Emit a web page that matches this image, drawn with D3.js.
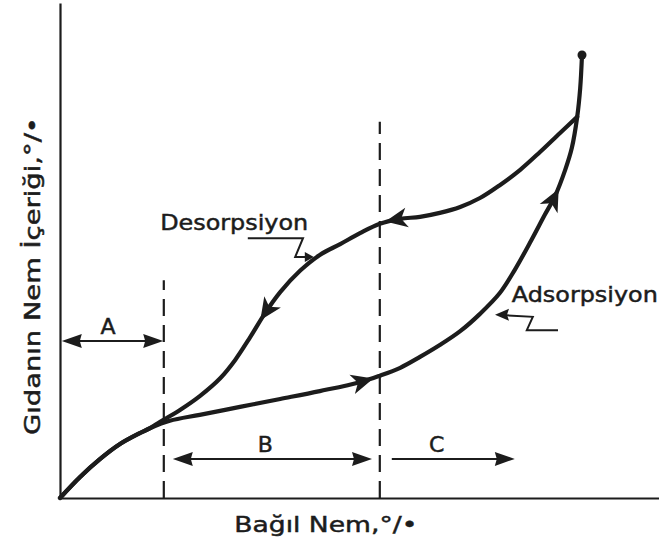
<!DOCTYPE html>
<html>
<head>
<meta charset="utf-8">
<script src="https://cdn.jsdelivr.net/npm/d3@7"></script>
<style>
    html, body { margin: 0; padding: 0; background: #fff; }
    svg { display: block; }
    text { font-family: "DejaVu Sans", sans-serif; fill: #1c1c1c; stroke: #1c1c1c; stroke-width: 0.5px; }
</style>
</head>
<body>
<svg id="chart"></svg>
<script>
// adsorpsiyon egrisi (bagil nem %, nem icerigi)
var adsRH = [0, 3.3, 6.7, 10, 13.3, 15, 18.3, 23.3, 30, 36.7, 43.3, 50, 53.3, 56.7, 60, 63.3, 66.7, 70, 73.3, 75.8, 78.3, 80.8, 82.5, 84.2, 85.3, 86.2, 86.7, 87];
var adsMC = [0, 4.2, 7.9, 10.9, 13.1, 14.1, 15.6, 16.8, 18.4, 20.0, 21.6, 23.4, 24.7, 26.3, 28.5, 30.9, 33.7, 37.2, 41.4, 46.1, 51.5, 57.2, 61.0, 66.3, 70.7, 77.0, 82.8, 89.5];
// desorpsiyon egrisi (ustten asagi)
var desRH = [86.2, 83.3, 80, 76.7, 73.3, 70, 66.7, 63.3, 60, 56.7, 53.3, 50, 46.7, 43.3, 40, 36.7, 34.2, 31.7, 29.2, 26.7, 23.3, 20, 16.7, 15, 13.3, 10, 6.7, 3.3, 0];
var desMC = [77.0, 73.7, 69.9, 66.3, 63.2, 60.6, 58.8, 57.6, 56.8, 56.4, 55.4, 53.5, 51.3, 49.1, 45.9, 41.6, 37.4, 32.5, 27.9, 24.2, 20.6, 17.8, 15.4, 14.1, 13.1, 10.9, 7.9, 4.2, 0];

// ok yonu gosteren noktalar (bagil nem)
var adsArrowRH = [50.3, 82.2];
var desArrowRH = [56.2, 34.5];

// bolge sinirlari
var boundRH = [17.3, 53.3];
var boundTop = [44, 76];

var zoneLabels = ["A", "B", "C"];
var zoneFrom = [0.3, 18.8, 55.3];
var zoneTo = [17.2, 52, 75.8];
var zoneLevel = [31.7, 7.9, 7.9];
var zoneLabelRH = [8, 34.2, 62.8];
var zoneBoth = [true, true, false];

var xTitle = "Bağıl Nem,°/•";
var yTitle = "Gıdanın Nem İçeriği,°/•";

var W = 659, H = 556;
var ink = "#1c1c1c";

var svg = d3.select("#chart").attr("width", W).attr("height", H);

var x = d3.scaleLinear().domain([0, 100]).range([60, 660]);
var y = d3.scaleLinear().domain([0, 100]).range([498, 3]);

// axes (no ticks)
svg.append("g")
    .attr("transform", "translate(0," + y(0) + ")")
    .call(d3.axisBottom(x).ticks(0).tickSizeOuter(0))
    .select(".domain").attr("stroke", ink).attr("stroke-width", 2.2);
svg.append("g")
    .attr("transform", "translate(" + x(0) + ",0)")
    .call(d3.axisLeft(y).ticks(0).tickSizeOuter(0))
    .select(".domain").attr("stroke", ink).attr("stroke-width", 2.2);

// dashed bounds
boundRH.forEach(function (b, i) {
    svg.append("line")
        .attr("x1", x(b)).attr("x2", x(b))
        .attr("y1", y(0)).attr("y2", y(boundTop[i]))
        .attr("stroke", ink).attr("stroke-width", 2.2)
        .attr("stroke-dasharray", "17,9");
});

var line = d3.line()
    .x(function (d) { return x(d[0]); })
    .y(function (d) { return y(d[1]); })
    .curve(d3.curveCatmullRom.alpha(0.5));

var adsPath = svg.append("path")
    .datum(d3.zip(adsRH, adsMC))
    .attr("d", line)
    .attr("fill", "none").attr("stroke", ink)
    .attr("stroke-width", 4.2).attr("stroke-linecap", "round");

var desPath = svg.append("path")
    .datum(d3.zip(desRH, desMC))
    .attr("d", line)
    .attr("fill", "none").attr("stroke", ink)
    .attr("stroke-width", 4.2).attr("stroke-linecap", "round");

// end dot
svg.append("circle")
    .attr("cx", x(adsRH[adsRH.length - 1]))
    .attr("cy", y(adsMC[adsMC.length - 1]))
    .attr("r", 4.5).attr("fill", ink);

// find point on path with given x, return position + angle
function pointAtX(node, px, increasing) {
    var total = node.getTotalLength();
    var lo = 0, hi = total;
    for (var k = 0; k < 40; k++) {
        var mid = (lo + hi) / 2;
        var p = node.getPointAtLength(mid);
        if ((p.x < px) === increasing) lo = mid; else hi = mid;
    }
    var l = (lo + hi) / 2;
    var a = node.getPointAtLength(Math.max(0, l - 3));
    var b = node.getPointAtLength(Math.min(total, l + 3));
    var p0 = node.getPointAtLength(l);
    return { x: p0.x, y: p0.y, angle: Math.atan2(b.y - a.y, b.x - a.x) * 180 / Math.PI };
}

var curveHead = "M12,0 L-10,-10 L-4,0 L-10,10 Z";

function drawCurveArrows(pathSel, list, increasing) {
    list.forEach(function (rh) {
        var p = pointAtX(pathSel.node(), x(rh), increasing);
        svg.append("path")
            .attr("d", curveHead)
            .attr("fill", ink)
            .attr("transform", "translate(" + p.x + "," + p.y + ") rotate(" + p.angle + ")");
    });
}
drawCurveArrows(adsPath, adsArrowRH, true);
drawCurveArrows(desPath, desArrowRH, false);

// dimension arrows
var dimHead = "M0,0 L-20,-7 L-18,0 L-20,7 Z";
zoneLabels.forEach(function (lab, i) {
    var x1 = x(zoneFrom[i]), x2 = x(zoneTo[i]), yy = y(zoneLevel[i]);
    svg.append("line")
        .attr("x1", x1 + (zoneBoth[i] ? 12 : 0)).attr("x2", x2 - 12)
        .attr("y1", yy).attr("y2", yy)
        .attr("stroke", ink).attr("stroke-width", 2);
    svg.append("path").attr("d", dimHead).attr("fill", ink)
        .attr("transform", "translate(" + x2 + "," + yy + ")");
    if (zoneBoth[i]) {
        svg.append("path").attr("d", dimHead).attr("fill", ink)
            .attr("transform", "translate(" + x1 + "," + yy + ") rotate(180)");
    }
    svg.append("text")
        .attr("x", x(zoneLabelRH[i]))
        .attr("y", yy - 7)
        .attr("text-anchor", "middle")
        .style("font-size", "22px")
        .text(lab);
});

// curve names with leader lines
var leaderGen = d3.line()
    .x(function (d) { return x(d[0]); })
    .y(function (d) { return y(d[1]); });

svg.append("text")
    .attr("x", x(16.7)).attr("y", y(54.1))
    .attr("textLength", 148).attr("lengthAdjust", "spacingAndGlyphs")
    .style("font-size", "22px")
    .text("Desorpsiyon");
svg.append("path")
    .attr("d", leaderGen([[31.3, 52.5], [40.5, 52.5], [39.2, 48.7], [41.2, 48.7]]))
    .attr("fill", "none").attr("stroke", ink).attr("stroke-width", 2);
svg.append("path")
    .attr("d", "M0,0 L-9,-5 L-9,5 Z").attr("fill", ink)
    .attr("transform", "translate(" + x(42.3) + "," + y(48.7) + ")");

svg.append("text")
    .attr("x", x(75.3)).attr("y", y(39.6))
    .attr("textLength", 146).attr("lengthAdjust", "spacingAndGlyphs")
    .style("font-size", "22px")
    .text("Adsorpsiyon");
svg.append("path")
    .attr("d", leaderGen([[83, 33.9], [77.8, 33.9], [78.8, 36.6], [74.5, 36.9]]))
    .attr("fill", "none").attr("stroke", ink).attr("stroke-width", 2);
svg.append("path")
    .attr("d", "M0,0 L14,-6 L12,0 L14,6 Z").attr("fill", ink)
    .attr("transform", "translate(" + x(72.5) + "," + y(37) + ")");

// axis titles
svg.append("text")
    .attr("x", x(44.3)).attr("y", 532)
    .attr("text-anchor", "middle")
    .attr("textLength", 183).attr("lengthAdjust", "spacingAndGlyphs")
    .style("font-size", "22px")
    .text(xTitle);

svg.append("text")
    .attr("transform", "translate(40," + 276 + ") rotate(-90)")
    .attr("text-anchor", "middle")
    .attr("textLength", 318).attr("lengthAdjust", "spacingAndGlyphs")
    .style("font-size", "21px")
    .text(yTitle);
</script>
</body>
</html>
